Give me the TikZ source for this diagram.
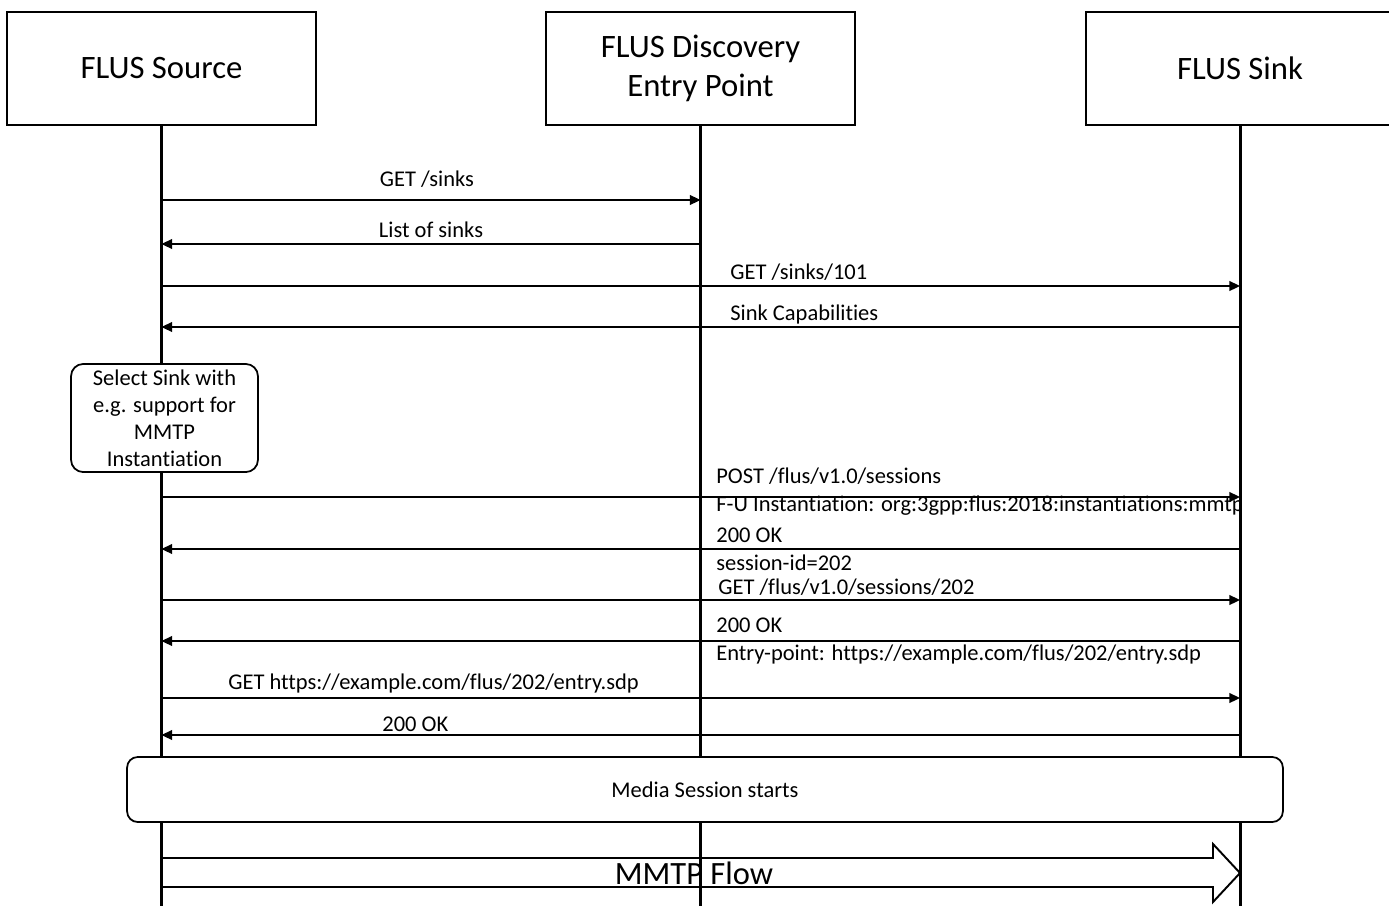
\documentclass[tikz,border=0pt]{standalone}
\usepackage{fontspec}
\setmainfont{Carlito}[Ligatures=NoCommon]
\usetikzlibrary{arrows.meta}

\begin{document}
\begin{tikzpicture}[x=0.02cm,y=-0.02cm,font=\fontsize{12.8}{15.3}\selectfont,
actor/.style={draw,line width=1.1pt,fill=white,minimum width=6.18cm,minimum height=2.26cm,align=center,font=\fontsize{18.6}{22}\selectfont},
life/.style={line width=1.7pt},
msg/.style={line width=1pt,-{Triangle[length=6pt,width=5.5pt]}},
note/.style={draw,line width=1pt,fill=white,rounded corners=#1,align=center},
lbl/.style={inner sep=0pt,anchor=base west}]
\useasboundingbox (0,0) rectangle (1389,906);
% participants and their lifelines
\node[actor] (src) at (161.5,68.5) {FLUS Source};
\node[actor] (disc) at (700.5,68.5) {FLUS Discovery\\Entry Point};
\node[actor] (sink) at (1240,68.5) {FLUS Sink};
\coordinate (srcEnd) at (src.south |- 0,906);
\coordinate (discEnd) at (disc.south |- 0,906);
\coordinate (sinkEnd) at (sink.south |- 0,906);
\draw[life] (src.south) -- (srcEnd);
\draw[life] (disc.south) -- (discEnd);
\draw[life] (sink.south) -- (sinkEnd);
% requests and responses
\foreach \y/\a/\b in {200/src/disc,244/disc/src,286/src/sink,327/sink/src,497/src/sink,549/sink/src,600/src/sink,641/sink/src,698/src/sink,735/sink/src}
  \draw[msg] (\a |- 0,\y) -- (\b |- 0,\y);
\node[lbl,anchor=base] (getSinks) at (427,186) {GET /sinks};
\node[lbl,anchor=base] (sinkList) at (431,237) {List of sinks};
\node[lbl] (getSink) at (730,279) {GET /sinks/101};
\node[lbl] (sinkCaps) at (730,320) {Sink Capabilities};
\node[lbl] (post) at (716,483) {POST /flus/v1.0/sessions};
\begin{scope}
\clip (600,488) rectangle (sink |- 0,520);
\node[lbl] (postBody) at (716,511) {F-U Instantiation: org:3gpp:flus:2018:instantiations:mmtp};
\end{scope}
\node[lbl] (postOk) at (716,542) {200 OK};
\node[lbl] (sessionId) at (716,570) {session-id=202};
\node[lbl] (getSession) at (718,594) {GET /flus/v1.0/sessions/202};
\node[lbl] (sessionOk) at (716,632) {200 OK};
\node[lbl] (entryPoint) at (716,660) {Entry-point: https://example.com/flus/202/entry.sdp};
\node[lbl] (getSdp) at (228,689) {GET https://example.com/flus/202/entry.sdp};
\node[lbl] (sdpOk) at (382,731) {200 OK};
% notes
\node[note=7pt,minimum width=3.74cm,minimum height=2.04cm] (select) at (164.5,418) {Select Sink with\\e.g. support for\\MMTP\\Instantiation};
\node[note=6pt,minimum width=23.12cm,minimum height=1.3cm] (media) at (705,789.5) {Media Session starts};
% media flow
\coordinate (flowTip) at (sink |- 0,873);
\draw[line width=1.1pt] (src |- 0,858) -- (1213,858) -- (1213,844) -- (flowTip) -- (1213,902) -- (1213,887) -- (src |- 0,887);
\node[font=\fontsize{18.5}{22}\selectfont] (flow) at (694,873) {MMTP Flow};
\end{tikzpicture}
\end{document}
